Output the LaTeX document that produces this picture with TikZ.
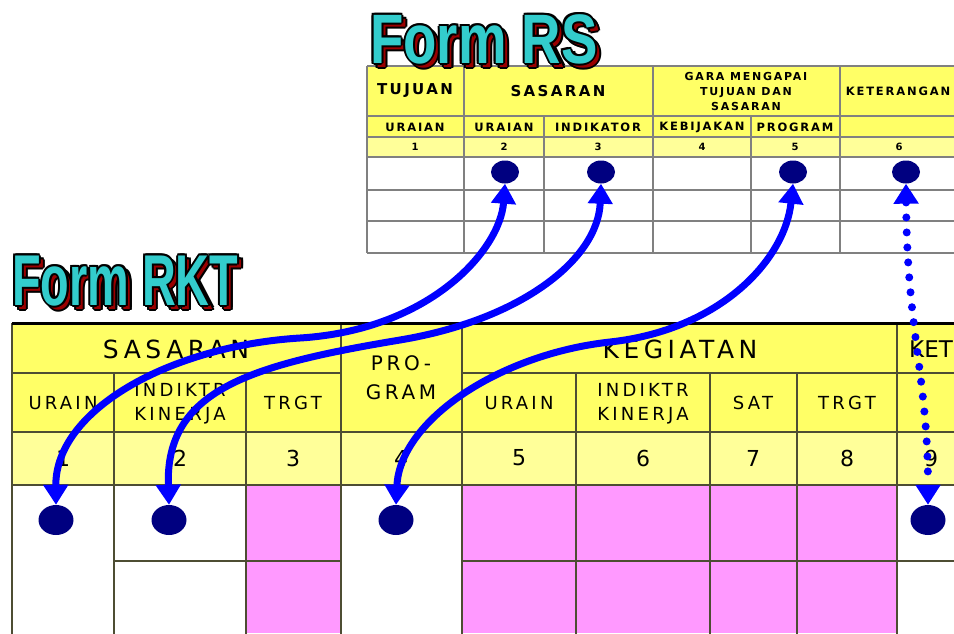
\documentclass[tikz,border=0pt]{standalone}
\usepackage{fontspec}
\usepackage{graphicx}
\setmainfont{DejaVu Sans}
\newfontfamily\rktfont[LetterSpace=18]{DejaVu Sans}
\newfontfamily\rsfont[LetterSpace=16]{DejaVu Sans}
\newfontfamily\titlefont{Liberation Sans}
\usetikzlibrary{arrows.meta,shapes.geometric,calc}
\definecolor{hdryel}{HTML}{FFFF66}
\definecolor{numyel}{HTML}{FFFF99}
\definecolor{pinkc}{HTML}{FF99FF}
\definecolor{navyc}{HTML}{000080}
\definecolor{arrblue}{HTML}{0000FF}
\definecolor{titlecyan}{HTML}{33CCCC}
\definecolor{shadowred}{HTML}{990000}
\definecolor{rsline}{HTML}{808080}
\definecolor{rktline}{HTML}{4D4D33}
\newcommand\rstitle{\scalebox{0.78}[1]{\titlefont\bfseries\fontsize{70}{70}\selectfont Form RS}}
\newcommand\rkttitle{\scalebox{0.65}[1]{\titlefont\bfseries\fontsize{72}{72}\selectfont Form RKT}}
\begin{document}
\begin{tikzpicture}[x=1pt,y=-1pt,
  rsgrid/.style={draw=rsline, line width=1.3pt},
  rktgrid/.style={draw=rktline, line width=1.6pt},
  rshead/.style={font=\rsfont\bfseries\fontsize{15}{16}\selectfont, inner sep=0, align=center},
  rsthree/.style={font=\rsfont\bfseries\fontsize{11}{15}\selectfont, inner sep=0, align=center},
  rssub/.style={font=\rsfont\bfseries\fontsize{11.5}{12}\selectfont, inner sep=0},
  rsnum/.style={font=\bfseries\fontsize{10}{12}\selectfont, inner sep=0},
  rktbig/.style={font=\rktfont\fontsize{25}{28}\selectfont, inner sep=0},
  rktmid/.style={font=\rktfont\fontsize{18}{24}\selectfont, inner sep=0, align=center},
  rktprog/.style={font=\rktfont\fontsize{20}{29}\selectfont, inner sep=0, align=center},
  rktnum/.style={font=\fontsize{22}{24}\selectfont, inner sep=0},
  dotsmall/.style={ellipse, fill=navyc, inner sep=0, minimum width=28pt, minimum height=23pt},
  dotbig/.style={ellipse, fill=navyc, inner sep=0, minimum width=35pt, minimum height=30pt},
  conn/.style={draw=arrblue, line width=7pt,
    {Triangle[width=24pt,length=20pt]}-{Triangle[width=24pt,length=20pt]}},
  dotconn/.style={draw=arrblue, line width=8pt, line cap=round, dash pattern=on 0pt off 15pt,
    {Triangle[width=24pt,length=20pt]}-{Triangle[width=24pt,length=20pt]}},
  titletxt/.style={anchor=base west, inner sep=0}
]
\useasboundingbox (0,0) rectangle (954,633);
\clip (0,0) rectangle (954,633);
\fill[white] (0,0) rectangle (954,633);

% ---------- Form RS table ----------
\fill[hdryel] (367,66) rectangle (960,137);
\fill[numyel] (367,137) rectangle (960,157);
\foreach \yy in {66,116,137,157,190,221,253} \draw[rsgrid] (367,\yy) -- (960,\yy);
\foreach \xx in {367,464,653,840} \draw[rsgrid] (\xx,66) -- (\xx,253);
\foreach \xx in {544,751} \draw[rsgrid] (\xx,116) -- (\xx,253);

\node[rshead] (rsTuj) at (415,91) {TUJUAN};
\node[rshead] (rsSas) at (558,91) {SASARAN};
\node[rsthree] (rsCara) at (746,91) {GARA MENGAPAI\\TUJUAN DAN\\SASARAN};
\node[rssub] (rsKet) at (898,91) {KETERANGAN};
\node[rssub] (rsU1) at (415,127) {URAIAN};
\node[rssub] (rsU2) at (504,127) {URAIAN};
\node[rssub] (rsInd) at (598,127) {INDIKATOR};
\node[rssub] (rsKeb) at (702,127) {KEBIJAKAN};
\node[rssub] (rsProg) at (795,127) {PROGRAM};
\node[rsnum] (rsN1) at (415,147) {1};
\node[rsnum] (rsN2) at (504,147) {2};
\node[rsnum] (rsN3) at (598,147) {3};
\node[rsnum] (rsN4) at (702,147) {4};
\node[rsnum] (rsN5) at (795,147) {5};
\node[rsnum] (rsN6) at (899,147) {6};

% ---------- Form RKT table ----------
\fill[hdryel] (12,323) rectangle (960,432);
\fill[numyel] (12,432) rectangle (960,485);
\fill[pinkc] (246,485) rectangle (341,633);
\fill[pinkc] (462,485) rectangle (897,633);
\draw[rktgrid] (12,373) -- (341,373);
\draw[rktgrid] (462,373) -- (960,373);
\draw[rktgrid] (12,432) -- (960,432);
\draw[rktgrid] (12,485) -- (960,485);
\draw[rktgrid] (114,561) -- (341,561);
\draw[rktgrid] (462,561) -- (960,561);
\foreach \xx in {12,341,462,897} \draw[rktgrid] (\xx,323) -- (\xx,640);
\foreach \xx in {114,246,576,710,797} \draw[rktgrid] (\xx,373) -- (\xx,640);
\draw[black, line width=3pt] (12,323) -- (960,323);

\node[rktbig] (kSas) at (176,349) {SASARAN};
\node[rktbig] (kKeg) at (680,349) {KEGIATAN};
\node[anchor=west, inner sep=0, font=\fontsize{23}{25}\selectfont] (kKet) at (909,349) {KET};
\node[rktprog] (kProg) at (401,378) {PRO-\\GRAM};
\node[rktmid] (kUr1) at (63,403) {URAIN};
\node[rktmid] (kInd1) at (180,404) {INDIKTR\\KINERJA};
\node[rktmid] (kTr1) at (293,403) {TRGT};
\node[rktmid] (kUr2) at (519,403) {URAIN};
\node[rktmid] (kInd2) at (643,404) {INDIKTR\\KINERJA};
\node[rktmid] (kSat) at (753,403) {SAT};
\node[rktmid] (kTr2) at (847,403) {TRGT};
\node[rktnum] (kN1) at (63,458) {1};
\node[rktnum] (kN2) at (180,458) {2};
\node[rktnum] (kN3) at (293,458) {3};
\node[rktnum] (kN4) at (401,458) {4};
\node[rktnum] (kN5) at (519,458) {5};
\node[rktnum] (kN6) at (643,458) {6};
\node[rktnum] (kN7) at (753,458) {7};
\node[rktnum] (kN8) at (847,458) {8};
\node[rktnum] (kN9) at (931,458) {9};

% ---------- titles (dark red shadow, black outline, cyan face) ----------
\foreach \a in {0,45,...,315} {
  \node[titletxt, text=black] (rsShO\a) at ($(374,67)+(\a:2pt)$) {\rstitle};
}
\node[titletxt, text=shadowred] (rsSh) at (374,67) {\rstitle};
\foreach \a in {0,45,...,315} {
  \node[titletxt, text=black] (rsO\a) at ($(370,63)+(\a:2pt)$) {\rstitle};
}
\node[titletxt, text=titlecyan] (titleRS) at (370,63) {\rstitle};

\foreach \a in {0,45,...,315} {
  \node[titletxt, text=black] (rktShO\a) at ($(16,309)+(\a:2pt)$) {\rkttitle};
}
\node[titletxt, text=shadowred] (rktSh) at (16,309) {\rkttitle};
\foreach \a in {0,45,...,315} {
  \node[titletxt, text=black] (rktO\a) at ($(12,305)+(\a:2pt)$) {\rkttitle};
}
\node[titletxt, text=titlecyan] (titleRKT) at (12,305) {\rkttitle};

% ---------- dots ----------
\node[dotsmall] (tA) at (505,172) {};
\node[dotsmall] (tB) at (601,172) {};
\node[dotsmall] (tC) at (793,172) {};
\node[dotsmall] (tD) at (906,172) {};
\node[dotbig] (bA) at (56,520) {};
\node[dotbig] (bB) at (169,520) {};
\node[dotbig] (bC) at (396,520) {};
\node[dotbig] (bD) at (928,520) {};

\coordinate (mA) at (300,338);
\coordinate (mB) at (400,340);
\coordinate (mC) at (610,342);

% ---------- connectors ----------
\draw[conn] (tA.south) .. controls (500,250) and (430,330) .. (mA)
  .. controls (170,346) and (55,410) .. (bA.north);
\draw[conn] (tB.south) .. controls (598,260) and (520,320) .. (mB)
  .. controls (250,365) and (165,390) .. (bB.north);
\draw[conn] (tC.south) .. controls (785,260) and (720,330) .. (mC)
  .. controls (500,354) and (400,420) .. (bC.north);
\draw[dotconn] (tD.south) .. controls (907,330) and (928,380) .. (bD.north);
\end{tikzpicture}
\end{document}
